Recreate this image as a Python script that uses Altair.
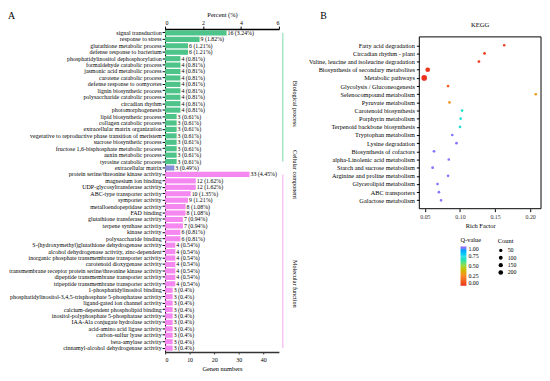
import altair as alt
import pandas as pd

SERIF = "Liberation Serif"

# ---------------- Panel A data ----------------
go_terms = [
    "signal transduction", "response to stress", "glutathione metabolic process",
    "defense response to bacterium", "phosphatidylinositol dephosphorylation",
    "formaldehyde catabolic process", "jasmonic acid metabolic process",
    "carotene catabolic process", "defense response to oomycetes",
    "lignin biosynthetic process", "polysaccharide catabolic process",
    "circadian rhythm", "photomorphogenesis", "lipid biosynthetic process",
    "collagen catabolic process", "extracellular matrix organization",
    "vegetative to reproductive phase transition of meristem",
    "sucrose biosynthetic process", "fructose 1,6-bisphosphate metabolic process",
    "auxin metabolic process", "tyrosine catabolic process",
    "extracellular matrix",
    "protein serine/threonine kinase activity", "magnesium ion binding",
    "UDP-glycosyltransferase activity", "ABC-type transporter activity",
    "symporter activity", "metalloendopeptidase activity", "FAD binding",
    "glutathione transferase activity", "terpene synthase activity",
    "kinase activity", "polysaccharide binding",
    "S-(hydroxymethyl)glutathione dehydrogenase activity",
    "alcohol dehydrogenase activity, zinc-dependent",
    "inorganic phosphate transmembrane transporter activity",
    "carotenoid dioxygenase activity",
    "transmembrane receptor protein serine/threonine kinase activity",
    "dipeptide transmembrane transporter activity",
    "tripeptide transmembrane transporter activity",
    "1-phosphatidylinositol binding",
    "phosphatidylinositol-3,4,5-trisphosphate 5-phosphatase activity",
    "ligand-gated ion channel activity", "calcium-dependent phospholipid binding",
    "inositol-polyphosphate 5-phosphatase activity",
    "IAA-Ala conjugate hydrolase activity", "acid-amino acid ligase activity",
    "carbon-sulfur lyase activity", "beta-amylase activity",
    "cinnamyl-alcohol dehydrogenase activity",
]
go_counts = [16, 9, 6, 6, 4, 4, 4, 4, 4, 4, 4, 4, 4, 3, 3, 3, 3, 3, 3, 3, 3,
             3,
             33, 12, 12, 10, 9, 8, 8, 7, 7, 6, 6, 4, 4, 4, 4, 4, 4, 4,
             3, 3, 3, 3, 3, 3, 3, 3, 3, 3]
go_percents = [3.24, 1.82, 1.21, 1.21, 0.81, 0.81, 0.81, 0.81, 0.81, 0.81, 0.81,
               0.81, 0.81, 0.61, 0.61, 0.61, 0.61, 0.61, 0.61, 0.61, 0.61,
               0.49,
               4.45, 1.62, 1.62, 1.35, 1.21, 1.08, 1.08, 0.94, 0.94, 0.81, 0.81,
               0.54, 0.54, 0.54, 0.54, 0.54, 0.54, 0.54,
               0.4, 0.4, 0.4, 0.4, 0.4, 0.4, 0.4, 0.4, 0.4, 0.4]
go_group_names = ["Biological process", "Cellular component", "Molecular function"]
go_group_sizes = [21, 1, 28]
go_group_colors = ["#4fc48a", "#8a8ed6", "#f587f0"]
go_group_line_colors = ["#7fd6a8", "#a9acdf", "#f3a6ef"]
go_group_label_anchor = ["circadian rhythm",
                         "protein serine/threonine kinase activity",
                         "tripeptide transmembrane transporter activity"]
pct_domain = [0, 6]
pct_ticks = [0, 2, 4, 6]
gene_domain = [0, 46.4]
gene_ticks = [0, 10, 20, 30, 40]

# ---------------- Panel B data ----------------
kegg_paths = [
    "Fatty acid degradation", "Circadian rhythm - plant",
    "Valine, leucine and isoleucine degradation",
    "Biosynthesis of secondary metabolites", "Metabolic pathways",
    "Glycolysis / Gluconeogenesis", "Selenocompound metabolism",
    "Pyruvate metabolism", "Carotenoid biosynthesis", "Porphyrin metabolism",
    "Terpenoid backbone biosynthesis", "Tryptophan metabolism",
    "Lysine degradation", "Biosynthesis of cofactors",
    "alpha-Linolenic acid metabolism", "Starch and sucrose metabolism",
    "Arginine and proline metabolism", "Glycerolipid metabolism",
    "ABC transporters", "Galactose metabolism",
]
kegg_rich = [0.163, 0.135, 0.127, 0.054, 0.049, 0.083, 0.208, 0.085, 0.103,
             0.101, 0.100, 0.089, 0.095, 0.063, 0.084, 0.061, 0.083, 0.068,
             0.070, 0.073]
kegg_q = [0.03, 0.03, 0.03, 0.02, 0.01, 0.12, 0.30, 0.28, 0.70, 0.72, 0.72,
          0.97, 0.97, 0.97, 0.97, 0.97, 0.97, 0.97, 0.97, 0.97]
kegg_count = [6, 7, 7, 200, 320, 7, 3, 6, 5, 6, 5, 5, 5, 14, 6, 14, 6, 7, 7, 6]
rich_ticks = [0.05, 0.10, 0.15, 0.20]
q_stops = [0, 0.25, 0.5, 0.75, 1.0]
q_colors = ["#ea2a1e", "#f78a2c", "#a3d836", "#3fdde3", "#a35cf2"]
count_legend_values = [50, 100, 150, 200]

# ---------------- Build tables ----------------
groups = []
for name, n in zip(go_group_names, go_group_sizes):
    groups += [name] * n
dfA = pd.DataFrame({
    "term": go_terms,
    "count": go_counts,
    "pct": go_percents,
    "group": groups,
    "lab": [f"{c} ({p:g}%)" for c, p in zip(go_counts, go_percents)],
})
starts, ends = [], []
i = 0
for n in go_group_sizes:
    starts.append(go_terms[i])
    ends.append(go_terms[i + n - 1])
    i += n
dfG = pd.DataFrame({"group": go_group_names, "start": starts, "end": ends,
                    "anchor": go_group_label_anchor})

dfB = pd.DataFrame({"pathway": kegg_paths, "rich": kegg_rich, "q": kegg_q,
                    "count": kegg_count})
dfOne = pd.DataFrame({"k": [0]})

W_A, H_A = 116, 329
W_B, H_B = 124, 183   # B plot drawn 8px below the shared origin (frame from y=8)
B_TOP = 8
LETTER_Y = -18

yA = alt.Y("term:N", scale=alt.Scale(domain=go_terms, paddingInner=0.2, paddingOuter=0.2),
           axis=alt.Axis(title=None, labelFontSize=6.1, labelFont=SERIF, labelColor="black",
                         domainColor="black", tickColor="black", tickSize=3,
                         labelPadding=1, labelLimit=0))
grp_color = alt.Color("group:N", scale=alt.Scale(domain=go_group_names, range=go_group_colors),
                      legend=None)

bars = alt.Chart(dfA).mark_bar().encode(
    x=alt.X("pct:Q", scale=alt.Scale(domain=pct_domain, nice=False),
            axis=alt.Axis(orient="top", title="Percent (%)", values=pct_ticks,
                          labelFont=SERIF, labelFontSize=6, titleFont=SERIF,
                          titleFontSize=6.5, titleFontWeight="normal", titlePadding=2,
                          domainColor="black", domainWidth=1.5, tickColor="black",
                          tickSize=3, labelPadding=1, labelOverlap=False, grid=False)),
    y=yA,
    color=grp_color,
)
bar_text = alt.Chart(dfA).mark_text(align="left", dx=1, fontSize=6, font=SERIF).encode(
    x=alt.X("pct:Q", scale=alt.Scale(domain=pct_domain, nice=False), axis=None),
    y=alt.Y("term:N"), text="lab:N", color=alt.value("black"))

genes_axis = alt.Chart(dfA).mark_point(opacity=0).encode(
    x=alt.X("count:Q", scale=alt.Scale(domain=gene_domain, nice=False),
            axis=alt.Axis(orient="bottom", title="Genen numbers", values=gene_ticks,
                          labelFont=SERIF, labelFontSize=6, titleFont=SERIF,
                          titleFontSize=6.5, titleFontWeight="normal", titlePadding=3,
                          domainColor="#333333", domainWidth=1.5, tickColor="#333333",
                          tickSize=2, labelPadding=3, grid=False)),
    y=alt.Y("term:N"),
)

grp_rules = alt.Chart(dfG).mark_rule(strokeWidth=1).encode(
    x=alt.value(W_A + 4),
    y=alt.Y("start:N"), y2="end:N",
    color=alt.Color("group:N", scale=alt.Scale(domain=go_group_names,
                                                range=go_group_line_colors), legend=None),
)
grp_text = alt.Chart(dfG).mark_text(angle=90, fontSize=6.3, font=SERIF,
                                    baseline="middle", align="center").encode(
    x=alt.value(W_A + 16), y=alt.Y("anchor:N"), text="group:N", color=alt.value("black"))

letter_A = alt.Chart(dfOne).mark_text(text="A", fontSize=10, font=SERIF, baseline="top",
                                      align="left").encode(
    x=alt.value(-160), y=alt.value(LETTER_Y), color=alt.value("black"))

panelA = alt.layer(bars, bar_text, genes_axis, grp_rules, grp_text, letter_A).resolve_scale(
    x="independent", color="independent").properties(
    width=W_A, height=H_A, view=alt.ViewBackground(stroke=None))

# ---------------- Panel B ----------------
step_B = (H_B - B_TOP) / 20.0
pts = alt.Chart(dfB).mark_circle(opacity=1).encode(
    x=alt.X("rich:Q", scale=alt.Scale(domain=[0.042, 0.2155], nice=False, zero=False),
            axis=alt.Axis(title="Rich Factor", values=rich_ticks, format=".2f",
                          labelFont=SERIF, labelFontSize=6, titleFont=SERIF,
                          titleFontSize=6.5, titleFontWeight="normal", titlePadding=3,
                          domain=False, tickColor="black", tickSize=3,
                          labelColor="#333333", grid=False)),
    y=alt.Y("pathway:N",
            scale=alt.Scale(domain=kegg_paths, type="point",
                            range=[B_TOP + step_B * 0.5, H_B - step_B * 0.5]),
            axis=alt.Axis(title=None, labelFont=SERIF, labelFontSize=6.4, labelColor="black",
                          domain=False, tickColor="black", tickSize=3,
                          labelPadding=2, labelLimit=0, grid=False)),
    color=alt.Color("q:Q", scale=alt.Scale(domain=q_stops, range=q_colors),
                    legend=alt.Legend(title="Q-value", orient="none", legendX=42, legendY=212,
                                      direction="vertical", gradientLength=40,
                                      gradientThickness=6, values=q_stops, format=".2f",
                                      labelFont=SERIF, labelFontSize=6, titleFont=SERIF,
                                      titleFontSize=6.5, titleFontWeight="normal",
                                      titlePadding=3, gradientStrokeWidth=0)),
    size=alt.Size("count:Q", scale=alt.Scale(domain=[0, 350], range=[7, 35]),
                  legend=alt.Legend(title="Count", orient="none", legendX=80, legendY=213,
                                    values=count_legend_values, symbolFillColor="black",
                                    symbolStrokeWidth=0, symbolType="circle",
                                    labelFont=SERIF, labelFontSize=6, titleFont=SERIF,
                                    titleFontSize=6.5, titleFontWeight="normal",
                                    titlePadding=3, rowPadding=1.5)),
)
frame_B = alt.Chart(dfOne).mark_rect(fillOpacity=0, stroke="black", strokeWidth=1).encode(
    x=alt.value(0), x2=alt.value(W_B), y=alt.value(B_TOP), y2=alt.value(H_B))
letter_B = alt.Chart(dfOne).mark_text(text="B", fontSize=10, font=SERIF, baseline="top",
                                      align="left").encode(
    x=alt.value(-101), y=alt.value(LETTER_Y), color=alt.value("black"))
kegg_title = alt.Chart(dfOne).mark_text(text="KEGG", fontSize=6.8, font=SERIF,
                                        baseline="middle", align="center").encode(
    x=alt.value(W_B / 2), y=alt.value(-4), color=alt.value("black"))

panelB = alt.layer(frame_B, pts, letter_B, kegg_title).properties(
    width=W_B, height=H_B, view=alt.ViewBackground(stroke=None))

chart = alt.hconcat(panelA, panelB, spacing=10).resolve_scale(
    color="independent", size="independent").resolve_legend(
    color="independent", size="independent").configure(
    padding=0, background="white")

chart.save("out.html", embed_options={"renderer": "svg", "actions": False})
